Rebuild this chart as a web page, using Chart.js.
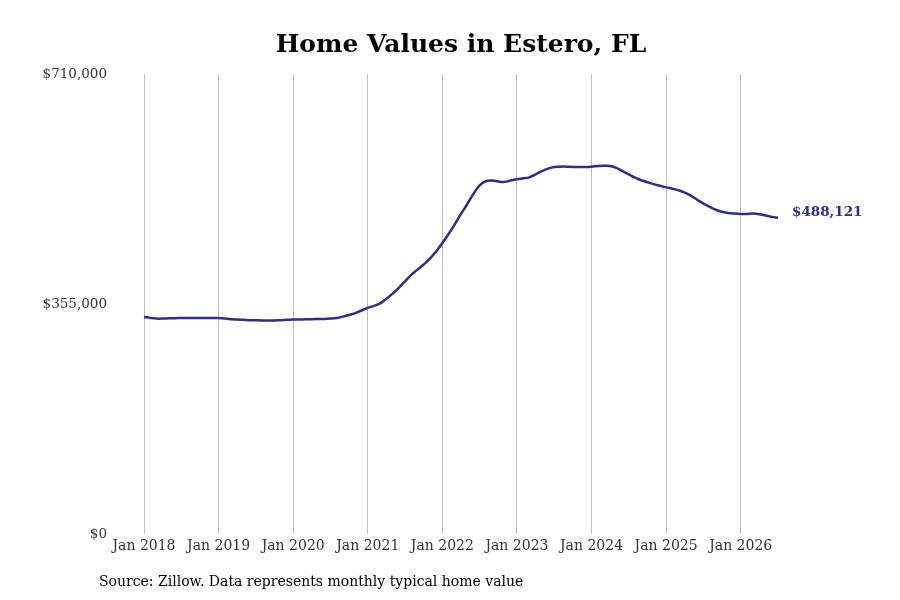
<!DOCTYPE html>
<html>
<head>
<meta charset="utf-8">
<script src="https://cdn.jsdelivr.net/npm/chart.js@4"></script>
<style>
    html, body { margin: 0; padding: 0; background: #fff; }
    #wrap { width: 900px; height: 600px; }
</style>
</head>
<body>
<div id="wrap"><canvas id="homeChart" width="900" height="600"></canvas></div>
<script>
// Typical home value by month (Jan..Dec)
const startYear = 2018;
const values2018 = [335000, 333500, 332500, 332500, 333000, 333000, 333500, 333500, 333500, 333500, 333500, 333500];
const values2019 = [333500, 332500, 331500, 331000, 330500, 330000, 330000, 329500, 329500, 329500, 330000, 330500];
const values2020 = [331000, 331000, 331500, 331500, 332000, 332000, 332500, 333500, 335500, 338000, 341000, 345000];
const values2021 = [349000, 352000, 356000, 363000, 371000, 380000, 390000, 400000, 408000, 416000, 425000, 436000];
const values2022 = [449000, 463000, 478000, 494000, 509000, 525000, 538000, 544500, 545500, 544000, 543500, 545500];
const values2023 = [547500, 549000, 550500, 555000, 560000, 564000, 566500, 567000, 567000, 566500, 566500, 566500];
const values2024 = [567000, 568000, 568500, 568000, 565000, 560000, 555000, 550000, 546000, 543000, 540000, 537500];
const values2025 = [535000, 533000, 530500, 527000, 522000, 516000, 510000, 505000, 500500, 497500, 495500, 494500];
const values2026 = [494000, 494000, 494500, 493500, 491500, 489500, 488121];

const yTicks = [0, 355000, 710000];
const lineColor = "#2e2d8a";

const values = [].concat(values2018, values2019, values2020, values2021, values2022,
    values2023, values2024, values2025, values2026);

const monthNames = ["Jan", "Feb", "Mar", "Apr", "May", "Jun", "Jul", "Aug", "Sep", "Oct", "Nov", "Dec"];
const labels = values.map((v, i) => monthNames[i % 12] + " " + (startYear + Math.floor(i / 12)));

const serif = "'DejaVu Serif', serif";

// end label + source note
const extras = {
    id: "extras",
    afterDatasetsDraw(chart) {
        const ctx = chart.ctx;
        const meta = chart.getDatasetMeta(0);
        const last = meta.data[meta.data.length - 1];
        const lastVal = values[values.length - 1];
        ctx.save();
        ctx.font = "bold 13.5px " + serif;
        ctx.fillStyle = lineColor;
        ctx.textAlign = "left";
        ctx.textBaseline = "middle";
        ctx.fillText("$" + lastVal.toLocaleString("en-US"), last.x + 14, last.y - 5);

        ctx.font = "14px " + serif;
        ctx.fillStyle = "#000";
        ctx.fillText("Source: Zillow. Data represents monthly typical home value", 99, 582);
        ctx.restore();
    }
};

new Chart(document.getElementById("homeChart"), {
    type: "line",
    data: {
        labels: labels,
        datasets: [{
            data: values,
            borderColor: lineColor,
            borderWidth: 2.5,
            pointRadius: 0,
            tension: 0.4,
            fill: false
        }]
    },
    options: {
        responsive: false,
        animation: false,
        layout: { padding: { left: 10, right: 122, top: 0, bottom: 34 } },
        plugins: {
            legend: { display: false },
            tooltip: { enabled: false },
            title: {
                display: true,
                text: "Home Values in Estero, FL",
                fullSize: false,
                color: "#000",
                font: { family: serif, size: 25, weight: "bold" },
                padding: { top: 30, bottom: 14 }
            }
        },
        scales: {
            x: {
                type: "category",
                offset: false,
                border: { display: false },
                grid: {
                    drawTicks: false,
                    lineWidth: 1,
                    color: c => (c.index % 12 === 0 ? "#bdbdbd" : "rgba(0,0,0,0)")
                },
                ticks: {
                    autoSkip: false,
                    maxRotation: 0,
                    padding: 4,
                    color: "#333",
                    font: { family: serif, size: 14 },
                    callback: (v, i) => (i % 12 === 0 ? labels[i] : "")
                },
                afterFit: s => { s.height = 32; }
            },
            y: {
                min: yTicks[0],
                max: yTicks[yTicks.length - 1],
                border: { display: false },
                grid: { display: false, drawTicks: false },
                afterBuildTicks: s => { s.ticks = yTicks.map(v => ({ value: v })); },
                ticks: {
                    padding: 37,
                    color: "#333",
                    font: { family: serif, size: 13.5 },
                    callback: v => "$" + Number(v).toLocaleString("en-US")
                },
                afterFit: s => { s.width = 134; }
            }
        }
    },
    plugins: [extras]
});
</script>
</body>
</html>
